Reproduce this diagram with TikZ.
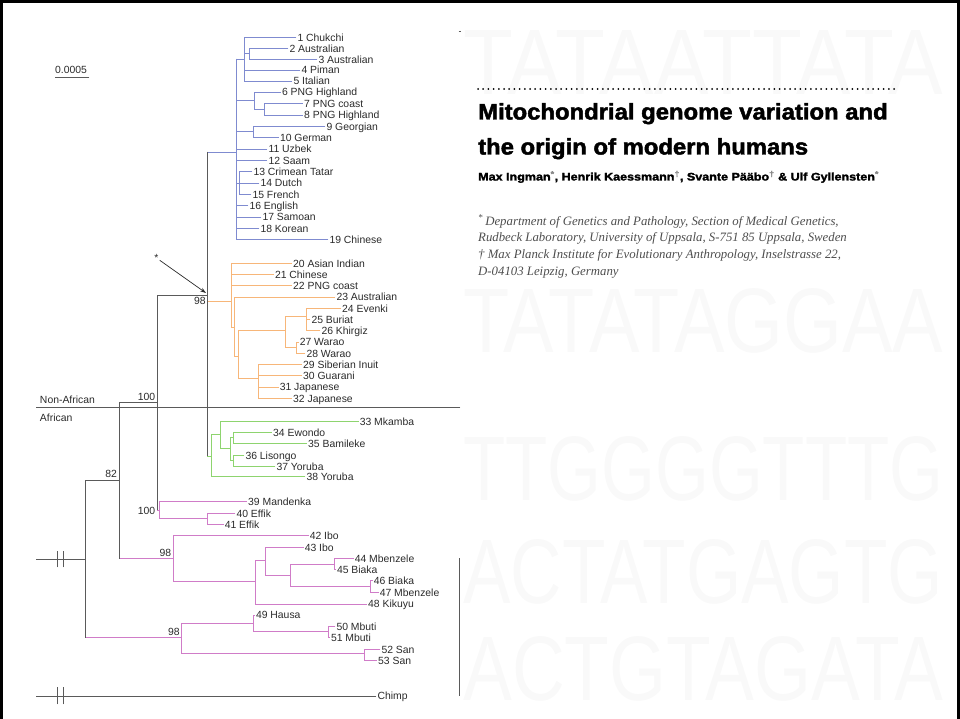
\documentclass[tikz,border=0pt]{standalone}
\usepackage{graphicx}
\usepackage{fontspec}
\setmainfont{Liberation Sans}
\newfontfamily\affilfont{Liberation Serif}
\newfontfamily\headfont{Liberation Sans}[BoldFeatures={FakeBold=2}]
\usetikzlibrary{arrows.meta}

\definecolor{treegray}{HTML}{5A5A5A}
\definecolor{treeblue}{HTML}{7F8BD0}
\definecolor{treeorange}{HTML}{F7B679}
\definecolor{treegreen}{HTML}{8ED46F}
\definecolor{treepurple}{HTML}{D07CC8}
\definecolor{labcol}{HTML}{2A2A2A}
\definecolor{affcol}{HTML}{4D4D4D}
\definecolor{supgray}{HTML}{8A8A8A}

\newcommand\labfont{\fontsize{10.4bp}{12bp}\selectfont}

% leaf: style, parent fork, name, tip position, label
\newcommand\treeleaf[5]{%
  \coordinate (#3) at (#4);
  \draw[#1] (#2 |- #3) -- (#3);
  \node[leaf] (#3t) at (#3) {#5};}
% inner fork: style, parent fork, name, position
\newcommand\treefork[4]{%
  \coordinate (#3) at (#4);
  \draw[#1] (#2 |- #3) -- (#3);}
% vertical bar of a fork: style, fork, top child, bottom child
\newcommand\treespan[4]{\draw[#1] (#2 |- #3) -- (#2 |- #4);}

\tikzset{
  br/.style={line width=0.85bp, line cap=rect},
  gry/.style={br, draw=treegray},
  blu/.style={br, draw=treeblue},
  ora/.style={br, draw=treeorange},
  grn/.style={br, draw=treegreen},
  pur/.style={br, draw=treepurple},
  leaf/.style={anchor=west, inner xsep=1.3bp, inner ysep=0pt, text height=7.5bp,
    text depth=0pt, font=\labfont, text=labcol},
  boot/.style={font=\labfont, inner sep=0.6bp, text height=7.5bp, text depth=0pt, text=labcol},
  wmark/.style={anchor=base west, inner sep=0pt, text=black!2.5},
  headline/.style={anchor=base west, inner sep=0pt, text=black},
}

\begin{document}
\begin{tikzpicture}[x=1bp, y=-1bp]
\useasboundingbox (0,0) rectangle (960,719);

% faint sequence letters in the background
\foreach \yy/\txt [count=\i] in {95/TATAATTATA, 352/TATATAGGAA,
    500/TTGGGGTTTG, 603/ACTATGAGTG, 700/ACTGTAGATA}
  \node[wmark] (wm\i) at (463,\yy) {\resizebox{480bp}{64bp}{\fontsize{96bp}{96bp}\selectfont \txt}};

% frame
\draw[line width=3bp, black] (1.5,719) -- (1.5,1.5) -- (958.5,1.5) -- (958.5,719);

% ---------- backbone ----------
\coordinate (og) at (36.7,559);
\coordinate (H) at (85.7,559);
\draw[gry] (og) -- (H);
\treefork{gry}{H}{N82}{119,480}
\treefork{pur}{H}{P49}{181.7,637.7}
\treespan{gry}{H}{N82}{P49}
\treefork{gry}{N82}{N100}{157,402.7}
\treefork{pur}{N82}{P42}{173.3,558.3}
\treespan{gry}{N82}{N100}{P42}
\treefork{gry}{N100}{N98}{207.3,295}
\treefork{pur}{N100}{P39}{159.3,510}
\treespan{gry}{N100}{N98}{P39}
\treefork{blu}{N98}{B}{236,152}
\treefork{ora}{N98}{O}{231,301.7}
\treefork{grn}{N98}{G}{211.7,456}
\treespan{gry}{N98}{B}{G}

% ---------- blue clade ----------
\treefork{blu}{B}{b15}{244.5,59}
\treeleaf{blu}{b15}{l1}{296,37.7}{1 Chukchi}
\treefork{blu}{b15}{b23}{249,53.5}
\treeleaf{blu}{b23}{l2}{288,48.5}{2 Australian}
\treeleaf{blu}{b23}{l3}{317,59.5}{3 Australian}
\treespan{blu}{b23}{l2}{l3}
\treeleaf{blu}{b15}{l4}{300,70.2}{4 Piman}
\treeleaf{blu}{b15}{l5}{292,81}{5 Italian}
\treespan{blu}{b15}{l1}{l5}
\treefork{blu}{B}{b68}{254,100.7}
\treeleaf{blu}{b68}{l6}{280.5,92.2}{6 PNG Highland}
\treefork{blu}{b68}{b78}{264,109.2}
\treeleaf{blu}{b78}{l7}{302.7,103.6}{7 PNG coast}
\treeleaf{blu}{b78}{l8}{302.7,115}{8 PNG Highland}
\treespan{blu}{b78}{l7}{l8}
\treespan{blu}{b68}{l6}{b78}
\treefork{blu}{B}{b910}{253.3,131.7}
\treeleaf{blu}{b910}{l9}{325,126.3}{9 Georgian}
\treeleaf{blu}{b910}{l10}{278.5,137.7}{10 German}
\treespan{blu}{b910}{l9}{l10}
\treeleaf{blu}{B}{l11}{267,149}{11 Uzbek}
\treeleaf{blu}{B}{l12}{267,160.4}{12 Saam}
\treefork{blu}{B}{b1315}{239,183}
\treeleaf{blu}{b1315}{l13}{252,171.8}{13 Crimean Tatar}
\treeleaf{blu}{b1315}{l14}{259,183.2}{14 Dutch}
\treeleaf{blu}{b1315}{l15}{251,194.5}{15 French}
\treespan{blu}{b1315}{l13}{l15}
\treeleaf{blu}{B}{l16}{248,205.8}{16 English}
\treeleaf{blu}{B}{l17}{261,217}{17 Samoan}
\treeleaf{blu}{B}{l18}{259,228.4}{18 Korean}
\treeleaf{blu}{B}{l19}{328,239.7}{19 Chinese}
\treespan{blu}{B}{b15}{l19}

% ---------- orange clade ----------
\treeleaf{ora}{O}{l20}{291.7,263.3}{20 Asian Indian}
\treeleaf{ora}{O}{l21}{273.5,274.5}{21 Chinese}
\treeleaf{ora}{O}{l22}{291.7,285.8}{22 PNG coast}
\treefork{ora}{O}{o2}{234.3,327}
\treespan{ora}{O}{l20}{o2}
\treeleaf{ora}{o2}{l23}{335,297}{23 Australian}
\treefork{ora}{o2}{o3}{238.3,356.7}
\treespan{ora}{o2}{l23}{o3}
\treefork{ora}{o3}{o24}{285,330}
\treefork{ora}{o24}{o2426}{306,316.7}
\treeleaf{ora}{o2426}{l24}{340.7,308.3}{24 Evenki}
\treeleaf{ora}{o2426}{l25}{310,319.5}{25 Buriat}
\treeleaf{ora}{o2426}{l26}{320,330.7}{26 Khirgiz}
\treespan{ora}{o2426}{l24}{l26}
\treefork{ora}{o24}{o2728}{296.7,347.2}
\treeleaf{ora}{o2728}{l27}{298.3,342}{27 Warao}
\treeleaf{ora}{o2728}{l28}{305,353.3}{28 Warao}
\treespan{ora}{o2728}{l27}{l28}
\treespan{ora}{o24}{o2426}{o2728}
\treefork{ora}{o3}{o29}{258.3,378.5}
\treeleaf{ora}{o29}{l29}{301.7,364.6}{29 Siberian Inuit}
\treeleaf{ora}{o29}{l30}{301.7,375.8}{30 Guarani}
\treeleaf{ora}{o29}{l31}{278.3,387.2}{31 Japanese}
\treeleaf{ora}{o29}{l32}{291.7,398.4}{32 Japanese}
\treespan{ora}{o29}{l29}{l32}
\treespan{ora}{o3}{o24}{o29}

% ---------- green clade ----------
\treefork{grn}{G}{g33}{220,434.3}
\treeleaf{grn}{g33}{l33}{358.3,421.5}{33 Mkamba}
\treefork{grn}{g33}{g34}{230,448.3}
\treefork{grn}{g34}{g3435}{233.3,437.5}
\treeleaf{grn}{g3435}{l34}{271.7,432.5}{34 Ewondo}
\treeleaf{grn}{g3435}{l35}{306.7,443.5}{35 Bamileke}
\treespan{grn}{g3435}{l34}{l35}
\treefork{grn}{g34}{g3637}{233.3,460.5}
\treeleaf{grn}{g3637}{l36}{244,455.3}{36 Lisongo}
\treeleaf{grn}{g3637}{l37}{275,466.3}{37 Yoruba}
\treespan{grn}{g3637}{l36}{l37}
\treespan{grn}{g34}{g3435}{g3637}
\treespan{grn}{g33}{l33}{g34}
\treeleaf{grn}{G}{l38}{305,476.7}{38 Yoruba}
\treespan{grn}{G}{g33}{l38}

% ---------- purple clades ----------
\treeleaf{pur}{P39}{l39}{246.7,501.5}{39 Mandenka}
\treefork{pur}{P39}{p40}{207.3,518.8}
\treeleaf{pur}{p40}{l40}{235,513.8}{40 Effik}
\treeleaf{pur}{p40}{l41}{223.3,524.5}{41 Effik}
\treespan{pur}{p40}{l40}{l41}
\treespan{pur}{P39}{l39}{p40}

\treeleaf{pur}{P42}{l42}{308.3,535.8}{42 Ibo}
\treefork{pur}{P42}{p43}{255,581.7}
\treespan{pur}{P42}{l42}{p43}
\treefork{pur}{p43}{p4347}{265.7,560}
\treeleaf{pur}{p4347}{l43}{303.3,547.6}{43 Ibo}
\treefork{pur}{p4347}{p4447}{290.7,575.7}
\treespan{pur}{p4347}{l43}{p4447}
\treefork{pur}{p4447}{p4445}{334,564.3}
\treeleaf{pur}{p4445}{l44}{353.3,558.6}{44 Mbenzele}
\treeleaf{pur}{p4445}{l45}{335.5,569.5}{45 Biaka}
\treespan{pur}{p4445}{l44}{l45}
\treefork{pur}{p4447}{p4647}{370,586.7}
\treeleaf{pur}{p4647}{l46}{372.3,580.6}{46 Biaka}
\treeleaf{pur}{p4647}{l47}{378.3,592.6}{47 Mbenzele}
\treespan{pur}{p4647}{l46}{l47}
\treespan{pur}{p4447}{p4445}{p4647}
\treeleaf{pur}{p43}{l48}{366.7,604}{48 Kikuyu}
\treespan{pur}{p43}{p4347}{l48}

\treefork{pur}{P49}{p4951}{253.3,623.3}
\treeleaf{pur}{p4951}{l49}{254.5,615.2}{49 Hausa}
\treefork{pur}{p4951}{p5051}{328.3,631.7}
\treeleaf{pur}{p5051}{l50}{335,626.5}{50 Mbuti}
\treeleaf{pur}{p5051}{l51}{329.5,637.5}{51 Mbuti}
\treespan{pur}{p5051}{l50}{l51}
\treespan{pur}{p4951}{l49}{p5051}
\treefork{pur}{P49}{p5253}{364,653.3}
\treeleaf{pur}{p5253}{l52}{380,649.3}{52 San}
\treeleaf{pur}{p5253}{l53}{376.7,660.5}{53 San}
\treespan{pur}{p5253}{l52}{l53}
\treespan{pur}{P49}{p4951}{p5253}

% ---------- outgroup ----------
\coordinate (ch0) at (36.7,696);
\coordinate (ch1) at (376,696);
\draw[gry] (ch0) -- (ch1);
\node[leaf] (chimp) at (ch1) {Chimp};
\foreach \xx in {57,63} {
  \draw[gry] (\xx,551.5) -- (\xx,567);
  \draw[gry] (\xx,687) -- (\xx,704);
}

% ---------- bootstrap values ----------
\node[boot, anchor=north east] (bs98a) at (206.5,296) {98};
\node[boot, anchor=south east] (bs100a) at (156,401.5) {100};
\node[boot, anchor=south east] (bs82) at (117.8,478.5) {82};
\node[boot, anchor=east] (bs100b) at (156,511) {100};
\node[boot, anchor=south east] (bs98b) at (172,557) {98};
\node[boot, anchor=south east] (bs98c) at (180.5,636.5) {98};

% starred node and arrow
\node[font=\labfont, text=labcol, inner sep=1bp] (star) at (156.5,258) {*};
\coordinate (atip) at (206,293);
\draw[-{Stealth[length=6bp,width=4bp]}, line width=0.7bp, labcol] (star) -- (atip);

% African / non-African divide
\coordinate (sepL) at (36.7,407.7);
\coordinate (sepR) at (460,407.7);
\draw[gry, line width=0.9bp] (sepL) -- (sepR);
\node[leaf] (nonafr) at (38.5,399.3) {Non-African};
\node[leaf] (afr) at (38.5,418) {African};

% scale bar
\node[anchor=base west, inner sep=0pt, font=\labfont, text=labcol] (scl) at (55,73.5) {0.0005};
\coordinate (sb0) at (55,77.5);
\coordinate (sb1) at (89,77.5);
\draw[gry, line width=0.7bp] (sb0) -- (sb1);

% right-hand rule and top tick
\coordinate (rv0) at (459.3,558);
\coordinate (rv1) at (459.3,696);
\draw[line width=1bp, treegray] (rv0) -- (rv1);
\coordinate (tk0) at (458.5,31);
\coordinate (tk1) at (460.5,31);
\draw[line width=0.8bp, treegray] (tk0) -- (tk1);

% ---------- heading ----------
\coordinate (dl0) at (478,89);
\coordinate (dl1) at (899,89);
\draw[line width=2bp, line cap=round, dash pattern=on 0bp off 5.2bp] (dl0) -- (dl1);

\node[headline] (title1) at (478,119.5)
  {\scalebox{1.06}[1]{\headfont\fontsize{22.5bp}{24bp}\selectfont\bfseries Mitochondrial genome variation and}};
\node[headline] (title2) at (478,154.5)
  {\scalebox{1.06}[1]{\headfont\fontsize{22.5bp}{24bp}\selectfont\bfseries the origin of modern humans}};
\node[headline] (authors) at (478,180.5)
  {\scalebox{1.14}[1]{\headfont\fontsize{11bp}{13bp}\selectfont\bfseries
   Max Ingman\textsuperscript{\color{supgray}*}, Henrik Kaessmann\textsuperscript{\color{supgray}†},
   Svante Pääbo\textsuperscript{\color{supgray}†} \& Ulf Gyllensten\textsuperscript{\color{supgray}*}}};

\begin{scope}[every node/.style={anchor=base west, inner sep=0pt, text=affcol,
    font={\affilfont\fontsize{12.8bp}{15bp}\selectfont\itshape}}]
\node (aff1) at (478,225) {\textsuperscript{*}\,Department of Genetics and Pathology, Section of Medical Genetics,};
\node (aff2) at (478,241.7) {Rudbeck Laboratory, University of Uppsala, S-751 85 Uppsala, Sweden};
\node (aff3) at (478,258.4) {† Max Planck Institute for Evolutionary Anthropology, Inselstrasse 22,};
\node (aff4) at (478,275) {D-04103 Leipzig, Germany};
\end{scope}
\end{tikzpicture}
\end{document}
